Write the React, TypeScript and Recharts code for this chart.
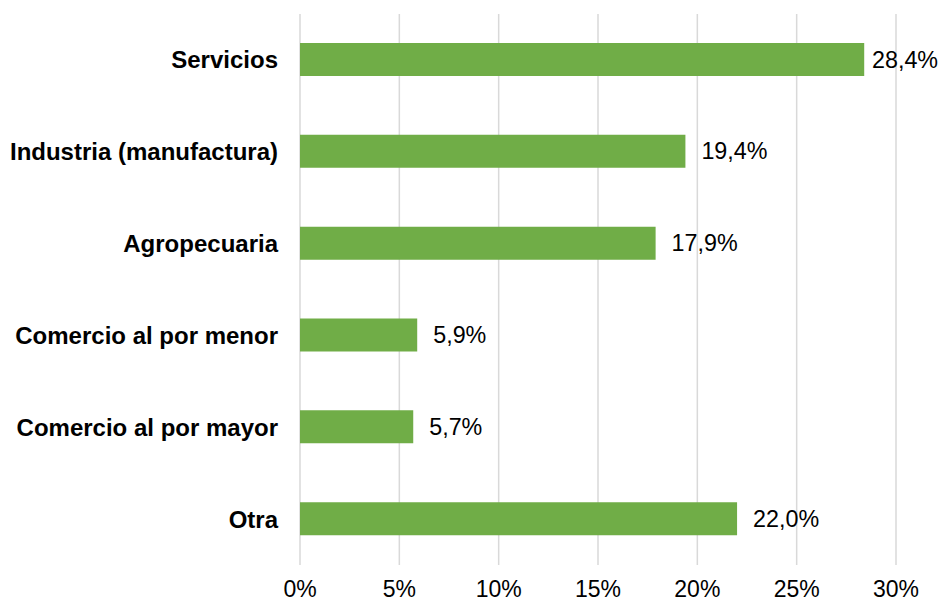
import { BarChart, Bar, XAxis, YAxis, CartesianGrid, LabelList } from 'recharts';

const categories = [
	'Servicios',
	'Industria (manufactura)',
	'Agropecuaria',
	'Comercio al por menor',
	'Comercio al por mayor',
	'Otra',
];
const shares = [28.4, 19.4, 17.9, 5.9, 5.7, 22.0];
const xTicks = [0, 5, 10, 15, 20, 25, 30];

const data = categories.map((name, i) => ({ name, value: shares[i] }));

const FONT = '"Liberation Sans", Arial, sans-serif';
const W = 944;
const H = 604;

const fmtPct = (v: number) => `${v.toFixed(1).replace('.', ',')}%`;

// value label next to the bar end; pulled back in when it would run off the right edge
function ValueLabel(props: any) {
	const { x, y, width, height, value } = props;
	const text = fmtPct(Number(value));
	const approxW = text.length * 13.2;
	let tx = x + width + 16;
	if (tx + approxW > W - 6) tx = W - 6 - approxW;
	return (
		<text x={tx} y={y + height / 2} dy="0.35em" fontSize={23.3} fontFamily={FONT} fill="#000">
			{text}
		</text>
	);
}

export default function App() {
	return (
		<div style={{ position: 'absolute', left: 0, top: 0, width: W, height: H, background: '#fff' }}>
			<BarChart
				width={W}
				height={H}
				data={data}
				layout="vertical"
				margin={{ top: 14, right: 48, bottom: 0, left: 0 }}
				barCategoryGap={0}
			>
				<CartesianGrid horizontal={false} stroke="#d9d9d9" strokeWidth={1.5} />
				<XAxis
					type="number"
					domain={[0, 30]}
					ticks={xTicks}
					tickFormatter={(v) => `${v}%`}
					axisLine={false}
					tickLine={false}
					tickSize={0}
					tickMargin={16}
					height={39}
					interval={0}
					tick={{ fontSize: 23, fontFamily: FONT, fill: '#000' }}
				/>
				<YAxis
					type="category"
					dataKey="name"
					width={300}
					axisLine={false}
					tickLine={false}
					tickSize={0}
					tickMargin={22}
					interval={0}
					tick={{ fontSize: 24, fontFamily: FONT, fill: '#000', fontWeight: 'bold' }}
				/>
				<Bar dataKey="value" fill="#70AD47" barSize={33} isAnimationActive={false}>
					<LabelList dataKey="value" content={<ValueLabel />} />
				</Bar>
			</BarChart>
		</div>
	);
}
